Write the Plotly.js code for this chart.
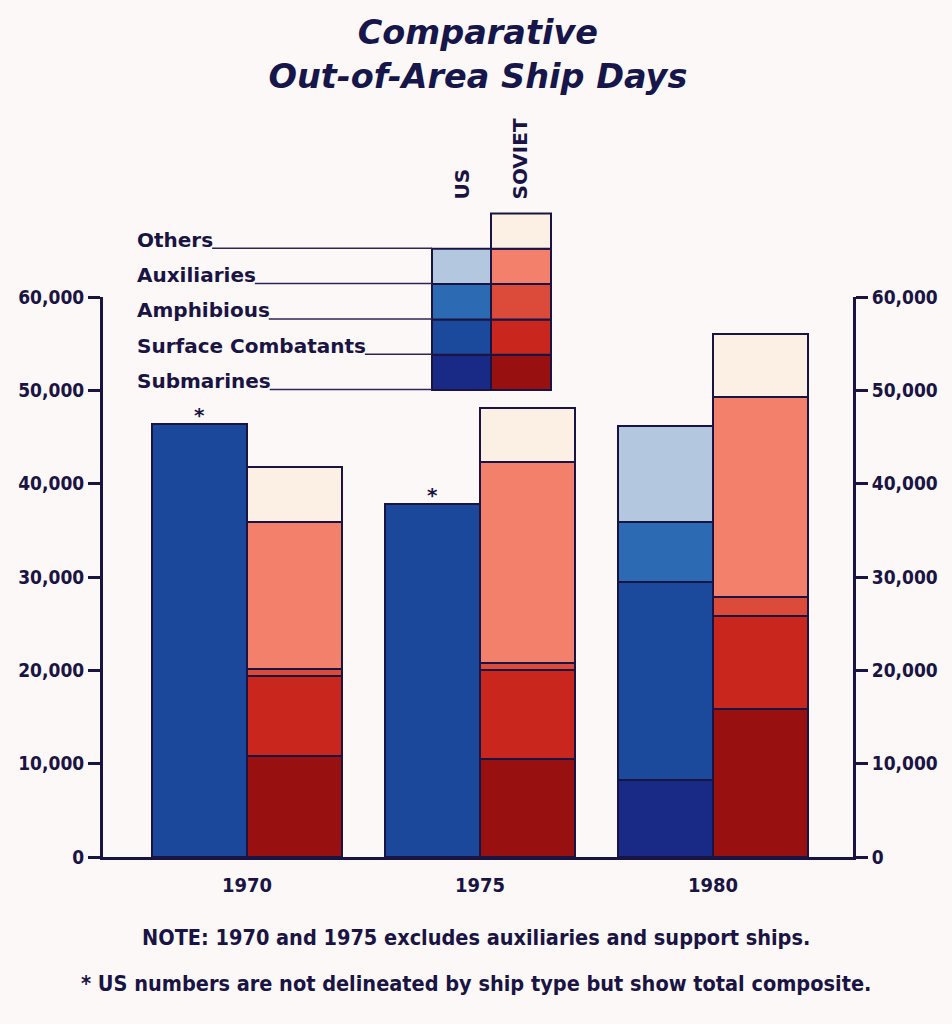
<!DOCTYPE html>
<html><head><meta charset="utf-8">
<script src="https://cdn.plot.ly/plotly-3.0.1.min.js"></script>
<style>html,body{margin:0;padding:0;background:#fbf7f6;}#chart{width:952px;height:1024px;}</style>
</head><body><div id="chart"></div>
<script>
// ---------- data ----------
const years = ['1970', '1975', '1980'];
// US: 1970 and 1975 are a total composite only
const usTotal            = [46400, 37800, null];
const usSubmarines       = [null, null, 8200];
const usSurface          = [null, null, 21300];
const usAmphibious       = [null, null, 6400];
const usAuxiliaries      = [null, null, 10300];
// Soviet
const sovietSubmarines   = [10800, 10550, 15900];
const sovietSurface      = [8600, 9500, 9900];
const sovietAmphibious   = [700, 750, 2100];
const sovietAuxiliaries  = [15800, 21500, 21400];
const sovietOthers       = [5900, 5800, 6700];

const seriesNames = ['Submarines', 'Surface Combatants', 'Amphibious', 'Auxiliaries', 'Others'];
const usColors     = ['#182a86', '#1b4a9c', '#2c6bb3', '#b3c7df', null];
const sovietColors = ['#981110', '#c9271d', '#dc4b39', '#f2806a', '#fcefe3'];
const usTotalColor = '#1b489b';

const yTickVals = [0, 10000, 20000, 30000, 40000, 50000, 60000];
const yTickText = ['0', '10,000', '20,000', '30,000', '40,000', '50,000', '60,000'];

const titleText = 'Comparative<br>Out-of-Area Ship Days';
const noteLines = [
  'NOTE: 1970 and 1975 excludes auxiliaries and support ships.',
  '* US numbers are not delineated by ship type but show total composite.'
];

// ---------- layout geometry ----------
const W = 952, H = 1024;
const PL = 103, PR = 853, PT = 297, PB = 857;
const xp = px => (px - PL) / (PR - PL);
const yp = py => (PB - py) / (PB - PT);
const ink = '#1a1444';
const condensed = "'DejaVu Sans Condensed', 'DejaVu Sans', sans-serif";
const regular = "'DejaVu Sans', sans-serif";

const barW = 0.408, off = 0.204;
const idx = years.map((_, i) => i);
const usX = idx.map(i => i - off);
const sovX = idx.map(i => i + off);

function bar(x, y, color) {
  return {type: 'bar', x: x, y: y, width: barW,
    marker: {color: color, line: {color: ink, width: 2}},
    hoverinfo: 'skip', showlegend: false};
}
const usSeries = [usSubmarines, usSurface, usAmphibious, usAuxiliaries];
const sovSeries = [sovietSubmarines, sovietSurface, sovietAmphibious, sovietAuxiliaries, sovietOthers];

const traces = [bar(usX, usTotal, usTotalColor)];
usSeries.forEach((s, k) => traces.push(bar(usX, s, usColors[k])));
sovSeries.forEach((s, k) => traces.push(bar(sovX, s, sovietColors[k])));
// empty trace to activate right-hand axis
traces.push({type: 'scatter', x: [], y: [], yaxis: 'y2', showlegend: false, hoverinfo: 'skip'});

// ---------- legend (drawn as a mini stacked column) ----------
const shapes = [], annotations = [];
const legRowBottom = 390, legRowH = 35.3;
const usColL = 432, usColR = 491, sovColR = 551, labelX = 135;
const cvs = document.createElement('canvas').getContext('2d');
cvs.font = "bold 20px 'DejaVu Sans'";
seriesNames.forEach((name, k) => {
  const bottom = legRowBottom - legRowH * k, top = bottom - legRowH;
  if (usColors[k]) shapes.push({type: 'rect', xref: 'paper', yref: 'paper',
    x0: xp(usColL), x1: xp(usColR), y0: yp(bottom), y1: yp(top),
    fillcolor: usColors[k], line: {color: ink, width: 2}});
  shapes.push({type: 'rect', xref: 'paper', yref: 'paper',
    x0: xp(usColR), x1: xp(sovColR), y0: yp(bottom), y1: yp(top),
    fillcolor: sovietColors[k], line: {color: ink, width: 2}});
  const tw = cvs.measureText(name).width;
  shapes.push({type: 'line', xref: 'paper', yref: 'paper',
    x0: xp(labelX + tw + 1), x1: xp(usColL), y0: yp(bottom - 0.5), y1: yp(bottom - 0.5),
    line: {color: '#2e2458', width: 1.5}});
  annotations.push({xref: 'paper', yref: 'paper', x: xp(labelX), y: yp(bottom - 9),
    xanchor: 'left', yanchor: 'middle', text: name, showarrow: false,
    font: {family: regular, size: 20, weight: 'bold', color: ink}});
});
annotations.push({xref: 'paper', yref: 'paper', x: xp(462), y: yp(202), textangle: -90,
  xanchor: 'center', yanchor: 'bottom', text: 'US', showarrow: false,
  font: {family: regular, size: 20, weight: 'bold', color: ink}});
annotations.push({xref: 'paper', yref: 'paper', x: xp(520), y: yp(202), textangle: -90,
  xanchor: 'center', yanchor: 'bottom', text: 'SOVIET', showarrow: false,
  font: {family: regular, size: 20, weight: 'bold', color: ink}});

// asterisks above composite US bars
usTotal.forEach((v, i) => {
  if (v != null) annotations.push({x: usX[i], y: v, xref: 'x', yref: 'y', text: '*',
    showarrow: false, yanchor: 'bottom', yshift: -5,
    font: {family: regular, size: 20, weight: 'bold', color: ink}});
});

// notes
noteLines.forEach((t, k) => annotations.push({xref: 'paper', yref: 'paper',
  x: xp(476), y: yp(937 + 46 * k), xanchor: 'center', yanchor: 'middle', text: t,
  showarrow: false, font: {family: condensed, size: 21.5, weight: 'bold', color: ink}}));

const yAxisCommon = {
  range: [0, 60000], tickvals: yTickVals, ticktext: yTickText,
  ticks: 'outside', ticklen: 12, tickwidth: 3, tickcolor: ink,
  showline: true, linewidth: 3, linecolor: ink,
  showgrid: false, zeroline: false, fixedrange: true,
  tickfont: {family: condensed, size: 19, weight: 'bold', color: ink}
};

const layout = {
  width: W, height: H,
  paper_bgcolor: '#fbf8f7', plot_bgcolor: 'rgba(0,0,0,0)',
  margin: {l: PL, r: W - PR, t: PT, b: H - PB, pad: 0},
  barmode: 'stack', showlegend: false, hovermode: false,
  title: {text: titleText, x: 0.502, xanchor: 'center', y: 1 - 44 / H, yanchor: 'middle',
    font: {family: regular, size: 33.5, weight: 'bold', style: 'italic', color: '#16164a'}},
  xaxis: {range: [-0.618, 2.601], tickvals: idx, ticktext: years,
    showline: true, linewidth: 3, linecolor: ink, ticks: '', ticklabelstandoff: 8,
    showgrid: false, zeroline: false, fixedrange: true,
    tickfont: {family: condensed, size: 20, weight: 'bold', color: ink}},
  yaxis: Object.assign({side: 'left'}, yAxisCommon),
  yaxis2: Object.assign({side: 'right', overlaying: 'y'}, yAxisCommon),
  shapes: shapes, annotations: annotations
};

Plotly.newPlot('chart', traces, layout, {staticPlot: true, displayModeBar: false});
</script></body></html>
